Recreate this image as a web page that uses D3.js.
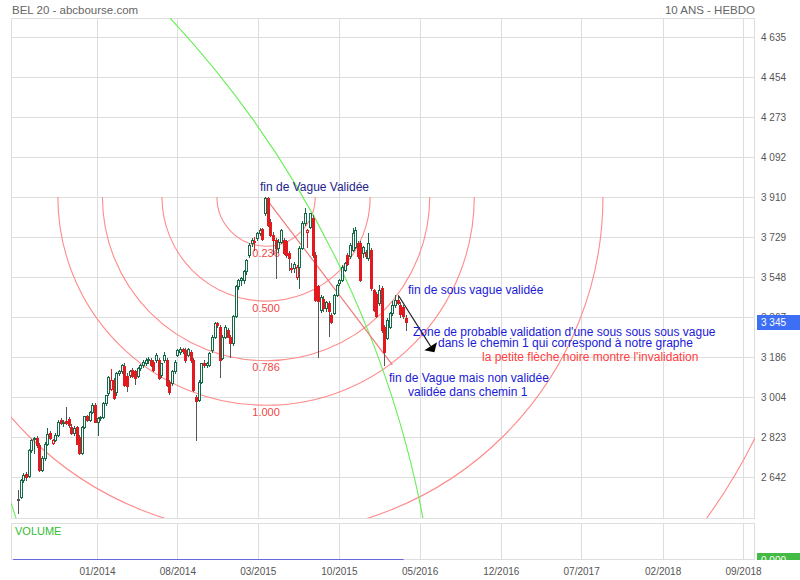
<!DOCTYPE html>
<html><head><meta charset="utf-8">
<script src="https://cdn.jsdelivr.net/npm/d3@7"></script>
<style>
html,body{margin:0;padding:0;background:#fff;}
svg{display:block;font-family:"Liberation Sans",Arial,Helvetica,sans-serif;}
</style></head>
<body><svg id="chart" width="800" height="580"></svg>
<script>
// ---------------- DATA ----------------
const chartTitle = "BEL 20 - abcbourse.com";
const chartPeriod = "10 ANS - HEBDO";
const yTickValues = [2642, 2823, 3004, 3186, 3367, 3548, 3729, 3910, 4092, 4273, 4454, 4635];
const xTickDates = ["2014-01-01","2014-08-01","2015-03-01","2015-10-01","2016-05-01","2016-12-01","2017-07-01","2018-02-01","2018-09-01"];
const xTickLabels = ["01/2014","08/2014","03/2015","10/2015","05/2016","12/2016","07/2017","02/2018","09/2018"];
const firstWeek = "2013-06-07"; // weekly candles start

const opens = [2538,2550,2629,2655,2645,2765,2812,2818,2787,2675,
2727,2790,2840,2795,2810,2833,2898,2885,2895,2905,
2870,2840,2868,2825,2750,2870,2918,2900,2938,2968,
2893,2908,2915,2976,3021,3040,3082,3025,3112,3120,
3143,3100,3105,3128,3120,3100,3135,3150,3160,3170,
3172,3165,3172,3172,3104,3172,3172,3074,3067,3120,
3195,3210,3222,3218,3195,3210,3172,3006,2991,3074,
3160,3150,3150,3218,3278,3338,3323,3180,3278,3308,
3278,3248,3369,3505,3535,3535,3573,3648,3701,3705,
3723,3746,3765,3837,3905,3799,3739,3716,3680,3705,
3716,3710,3656,3590,3588,3550,3595,3680,3792,3754,
3776,3814,3648,3505,3399,3450,3406,3430,3376,3384,
3467,3520,3535,3580,3648,3641,3671,3686,3701,3701,
3656,3663,3633,3671,3489,3470,3429,3497,3323,3271,
3323,3384,3420,3444,3422,3414,3360];
const highs = [2584,2635,2660,2665,2770,2815,2825,2828,2795,2735,
2800,2863,2850,2815,2840,2900,2910,2900,2961,2915,
2880,2875,2875,2830,2875,2920,2925,2940,2975,2975,
2915,2920,2980,3015,3098,3130,3090,3118,3125,3155,
3160,3115,3125,3135,3125,3140,3155,3170,3180,3185,
3180,3170,3205,3180,3160,3210,3180,3080,3125,3170,
3222,3233,3228,3225,3225,3215,3180,3015,3080,3160,
3170,3165,3210,3285,3345,3345,3330,3285,3330,3315,
3285,3375,3510,3540,3550,3580,3630,3700,3725,3731,
3752,3770,3772,3910,3910,3810,3750,3725,3720,3765,
3725,3715,3665,3610,3615,3600,3690,3800,3860,3765,
3840,3830,3660,3510,3465,3460,3440,3440,3385,3470,
3515,3540,3600,3615,3655,3700,3769,3776,3710,3710,
3690,3670,3746,3680,3495,3478,3512,3505,3330,3360,
3390,3440,3467,3467,3435,3420,3375];
const lows = [2478,2545,2620,2630,2640,2755,2750,2780,2668,2668,
2720,2785,2815,2790,2805,2828,2880,2875,2880,2870,
2835,2830,2790,2745,2745,2862,2895,2895,2930,2890,
2832,2900,2910,2970,3015,3035,2995,3015,3105,3115,
3055,3030,3095,3095,3065,3095,3128,3140,3150,3160,
3145,3120,3165,3085,3095,3165,3055,3020,3060,3115,
3190,3200,3205,3165,3190,3165,3030,2810,2985,3070,
3140,3140,3145,3210,3270,3320,3097,3175,3270,3275,
3187,3240,3365,3495,3510,3520,3560,3640,3690,3670,
3715,3740,3715,3830,3780,3735,3650,3544,3660,3700,
3650,3640,3580,3570,3570,3540,3500,3675,3785,3686,
3770,3640,3440,3185,3390,3395,3395,3280,3340,3380,
3460,3510,3530,3575,3600,3635,3665,3680,3635,3530,
3640,3635,3625,3490,3395,3365,3420,3300,3150,3265,
3315,3378,3410,3425,3365,3360,3310];
const closes = [2542,2629,2651,2640,2765,2810,2820,2787,2675,2727,
2790,2836,2818,2810,2833,2893,2885,2892,2888,2878,
2840,2865,2792,2750,2870,2918,2900,2938,2968,2893,
2908,2915,2976,3014,3094,3082,3000,3112,3120,3150,
3060,3055,3120,3100,3090,3135,3150,3165,3172,3175,
3150,3127,3195,3089,3157,3195,3059,3029,3120,3165,
3218,3222,3212,3172,3220,3170,3036,2985,3074,3157,
3150,3157,3203,3278,3338,3330,3172,3278,3323,3278,
3248,3369,3505,3535,3542,3573,3625,3693,3716,3712,
3749,3761,3722,3905,3784,3739,3716,3680,3705,3761,
3656,3648,3633,3588,3605,3595,3680,3792,3840,3760,
3837,3648,3444,3437,3459,3406,3436,3395,3346,3467,
3512,3535,3595,3610,3606,3693,3746,3761,3641,3535,
3686,3641,3701,3497,3400,3369,3490,3308,3210,3354,
3384,3420,3444,3430,3380,3370,3345];

// drawing objects (chart annotations, in date/price units)
const fibHigh = {date:"2015-03-23", value:3910};
const fibLow  = {date:"2014-10-10", value:3010};
const fibRatios = [0.236, 0.5, 0.786, 1, 1.618, 2.618];
const fibLabels = ["0.236","0.500","0.786","1.000"];
const trendFrom = {date:"2015-03-20", value:3910};
const trendTo   = {date:"2016-02-19", value:3150};
const greenCenter  = {date:"2009-03-09", value:1605};
const greenThrough = {date:"2016-01-25", value:3127};
const greenRatios = [1, 0.609];
const arrowFrom = {date:"2016-03-07", value:3462};
const arrowTo   = {date:"2016-06-09", value:3207};

const notes = [
  {text:"fin de Vague Validée", color:"#24248c"},
  {text:"fin de sous vague validée", color:"#1a1ad6"},
  {text:"Zone de probable validation d'une sous sous sous vague", color:"#1a1ad6"},
  {text:"dans le chemin 1 qui correspond à notre graphe", color:"#1a1ad6"},
  {text:"la petite flèche noire montre l'invalidation", color:"#ff4040"},
  {text:"fin de Vague mais non validée", color:"#1a1ad6"},
  {text:"validée dans chemin 1", color:"#1a1ad6"}
];

// ---------------- LAYOUT ----------------
const svg = d3.select("#chart");
const P = {l:11, r:755, t:18, b:518};
const V = {t:523, b:559};
const parse = d3.utcParse("%Y-%m-%d");

const x = d3.scaleUtc().domain([parse(xTickDates[0]), parse(xTickDates[xTickDates.length-1])]).range([97, 743]);
const y = d3.scaleLinear().domain([yTickValues[0], yTickValues[yTickValues.length-1]]).range([477, 37]);
const yVol = d3.scaleLinear().domain([0, 1]).range([V.b, V.t + 4]);

const start = parse(firstWeek);
const candles = opens.map((o,i)=>({date:d3.utcDay.offset(start, 7*i), o, h:highs[i], l:lows[i], c:closes[i]}));

const gridColor = "#dedede";
const textColor = "#555";

// title
svg.append("text").attr("x",12).attr("y",14).attr("font-size",11.5).attr("fill","#666").text(chartTitle);
svg.append("text").attr("x",755).attr("y",14).attr("text-anchor","end").attr("font-size",11.5).attr("fill","#666").text(chartPeriod);

const defs = svg.append("defs");
defs.append("clipPath").attr("id","plotclip").append("rect").attr("x",P.l).attr("y",P.t).attr("width",P.r-P.l).attr("height",P.b-P.t);
defs.append("clipPath").attr("id","volclip").append("rect").attr("x",757).attr("y",553).attr("width",43).attr("height",7);

// grids
const xTicks = xTickDates.map(parse);
const gMainGridY = svg.append("g").attr("transform",`translate(${P.l},0)`)
  .call(d3.axisRight(y).tickValues(yTickValues).tickSize(P.r-P.l).tickFormat(""));
const gMainGridX = svg.append("g").attr("transform",`translate(0,${P.t})`)
  .call(d3.axisBottom(x).tickValues(xTicks).tickSize(P.b-P.t).tickFormat(""));
const gVolGridX = svg.append("g").attr("transform",`translate(0,${V.t})`)
  .call(d3.axisBottom(x).tickValues(xTicks).tickSize(V.b-V.t).tickFormat(""));
[gMainGridY,gMainGridX,gVolGridX].forEach(g=>{
  g.select(".domain").remove();
  g.selectAll(".tick line").attr("stroke",gridColor).attr("shape-rendering","crispEdges");
});
// panel borders
svg.append("rect").attr("x",P.l+0.5).attr("y",P.t+0.5).attr("width",P.r-P.l-1).attr("height",P.b-P.t)
  .attr("fill","none").attr("stroke",gridColor);
svg.append("rect").attr("x",P.l+0.5).attr("y",V.t+0.5).attr("width",P.r-P.l-1).attr("height",V.b-V.t)
  .attr("fill","none").attr("stroke",gridColor);

// y axis labels
const fmtLocale = d3.formatLocale({decimal:".", thousands:" ", grouping:[3], currency:["",""]});
const fmt = fmtLocale.format(",");
const gY = svg.append("g").attr("transform",`translate(${P.r},0)`)
  .call(d3.axisRight(y).tickValues(yTickValues).tickSize(0).tickPadding(6).tickFormat(fmt));
gY.select(".domain").remove();
gY.selectAll("text").attr("font-size",10).attr("fill",textColor).attr("font-family","Liberation Sans, Arial, sans-serif");

// x axis labels
const gX = svg.append("g").attr("transform",`translate(0,${V.b})`)
  .call(d3.axisBottom(x).tickValues(xTicks).tickSize(0).tickPadding(9).tickFormat((d,i)=>xTickLabels[i]));
gX.select(".domain").remove();
gX.selectAll("text").attr("font-size",10).attr("fill",textColor).attr("font-family","Liberation Sans, Arial, sans-serif");

// ---------- plot contents ----------
const plot = svg.append("g").attr("clip-path","url(#plotclip)");
const pt = p => [x(parse(p.date)), y(p.value)];

// Fibonacci arcs (lower half circles)
const [fcx, fcy] = pt(fibHigh);
const [flx, fly] = pt(fibLow);
const baseR = Math.hypot(fcx-flx, fcy-fly);
const arcColor = "#ff8c8c";
fibRatios.forEach(r=>{
  const R = r*baseR;
  plot.append("path")
    .attr("d",`M${fcx-R},${fcy} A${R},${R} 0 0 0 ${fcx+R},${fcy}`)
    .attr("fill","none").attr("stroke",arcColor).attr("stroke-width",1.1);
});
// fib labels (under the candles)
fibLabels.forEach((lab,i)=>{
  const R = fibRatios[i]*baseR;
  plot.append("text").attr("x",fcx).attr("y",fcy+R+10.5).attr("text-anchor","middle")
    .attr("font-size",11).attr("fill","#f04848").text(lab);
});

// green arcs
const [gcx, gcy] = pt(greenCenter);
const [gtx, gty] = pt(greenThrough);
const gR = Math.hypot(gtx-gcx, gty-gcy);
greenRatios.forEach(r=>{
  plot.append("circle").attr("cx",gcx).attr("cy",gcy).attr("r",gR*r)
    .attr("fill","none").attr("stroke","#66ee55").attr("stroke-width",1.1);
});

// trend line
const [t1x,t1y] = pt(trendFrom), [t2x,t2y] = pt(trendTo);
plot.append("line").attr("x1",t1x).attr("y1",t1y).attr("x2",t2x).attr("y2",t2y)
  .attr("stroke","#f27a7a").attr("stroke-width",1.2);

// candles
const GREEN = "#166a48", RED = "#e2191f", WICK = "#555";
const cg = plot.append("g");
candles.forEach((d,i)=>{
  const prev = i>0 ? candles[i-1].c : null;
  const up = d.c >= d.o;
  let col, fill, wick;
  if (prev === null) { col = WICK; fill = WICK; wick = WICK; }
  else if (d.c >= prev) { col = GREEN; fill = up ? "#fff" : GREEN; wick = GREEN; }
  else { col = RED; fill = up ? "#fff" : RED; wick = up ? RED : WICK; }
  const cx = Math.round(x(d.date));
  cg.append("line").attr("x1",cx+0.5).attr("x2",cx+0.5)
    .attr("y1",Math.round(y(d.h))).attr("y2",Math.round(y(d.l))+1)
    .attr("stroke",wick).attr("stroke-width",1).attr("shape-rendering","crispEdges");
  const yt = Math.round(y(Math.max(d.o,d.c))), yb = Math.round(y(Math.min(d.o,d.c)));
  cg.append("rect").attr("x",cx-0.5).attr("y",yt+0.5).attr("width",2).attr("height",Math.max(yb-yt,1))
    .attr("fill",fill).attr("stroke",col).attr("stroke-width",1);
});

// arrow
const [a1x,a1y] = pt(arrowFrom), [a2x,a2y] = pt(arrowTo);
const L = Math.hypot(a2x-a1x, a2y-a1y), ux=(a2x-a1x)/L, uy=(a2y-a1y)/L;
const bx = a2x-7*ux, by = a2y-7*uy;
svg.append("line").attr("x1",a1x).attr("y1",a1y).attr("x2",bx).attr("y2",by).attr("stroke","#222").attr("stroke-width",1.2);
svg.append("path").attr("d",`M${a2x},${a2y} L${bx-7.5*uy},${by+7.5*ux} L${bx+7.5*uy},${by-7.5*ux} Z`).attr("fill","#000");

// annotation texts
const notePos = [[260,191],[408,294],[413,336],[438,347],[482,361],[389,382],[408,396]];
notes.forEach((n,i)=>{
  svg.append("text").attr("x",notePos[i][0]).attr("y",notePos[i][1]).attr("font-size",12)
    .attr("fill",n.color).text(n.text);
});

// volume panel
svg.append("text").attr("x",15).attr("y",535).attr("font-size",11).attr("fill","#33bb33").text("VOLUME");
svg.append("line").attr("x1",x(candles[0].date)-5).attr("x2",x(candles[candles.length-1].date)-2)
  .attr("y1",yVol(0)+0.5).attr("y2",yVol(0)+0.5).attr("stroke","#6666dd").attr("stroke-width",1);
const vg = svg.append("g").attr("clip-path","url(#volclip)");
vg.append("rect").attr("x",757).attr("y",553).attr("width",43).attr("height",15).attr("fill","#44bb44");
vg.append("text").attr("x",761).attr("y",563.5).attr("font-size",10).attr("fill","#fff").text("0.000");

// last price label
const last = closes[closes.length-1];
svg.append("rect").attr("x",757).attr("y",Math.round(y(last))-7).attr("width",43).attr("height",15).attr("fill","#3d6ff5");
svg.append("text").attr("x",761).attr("y",Math.round(y(last))+4).attr("font-size",10).attr("fill","#fff").text(fmt(last));
</script>
</body></html>
